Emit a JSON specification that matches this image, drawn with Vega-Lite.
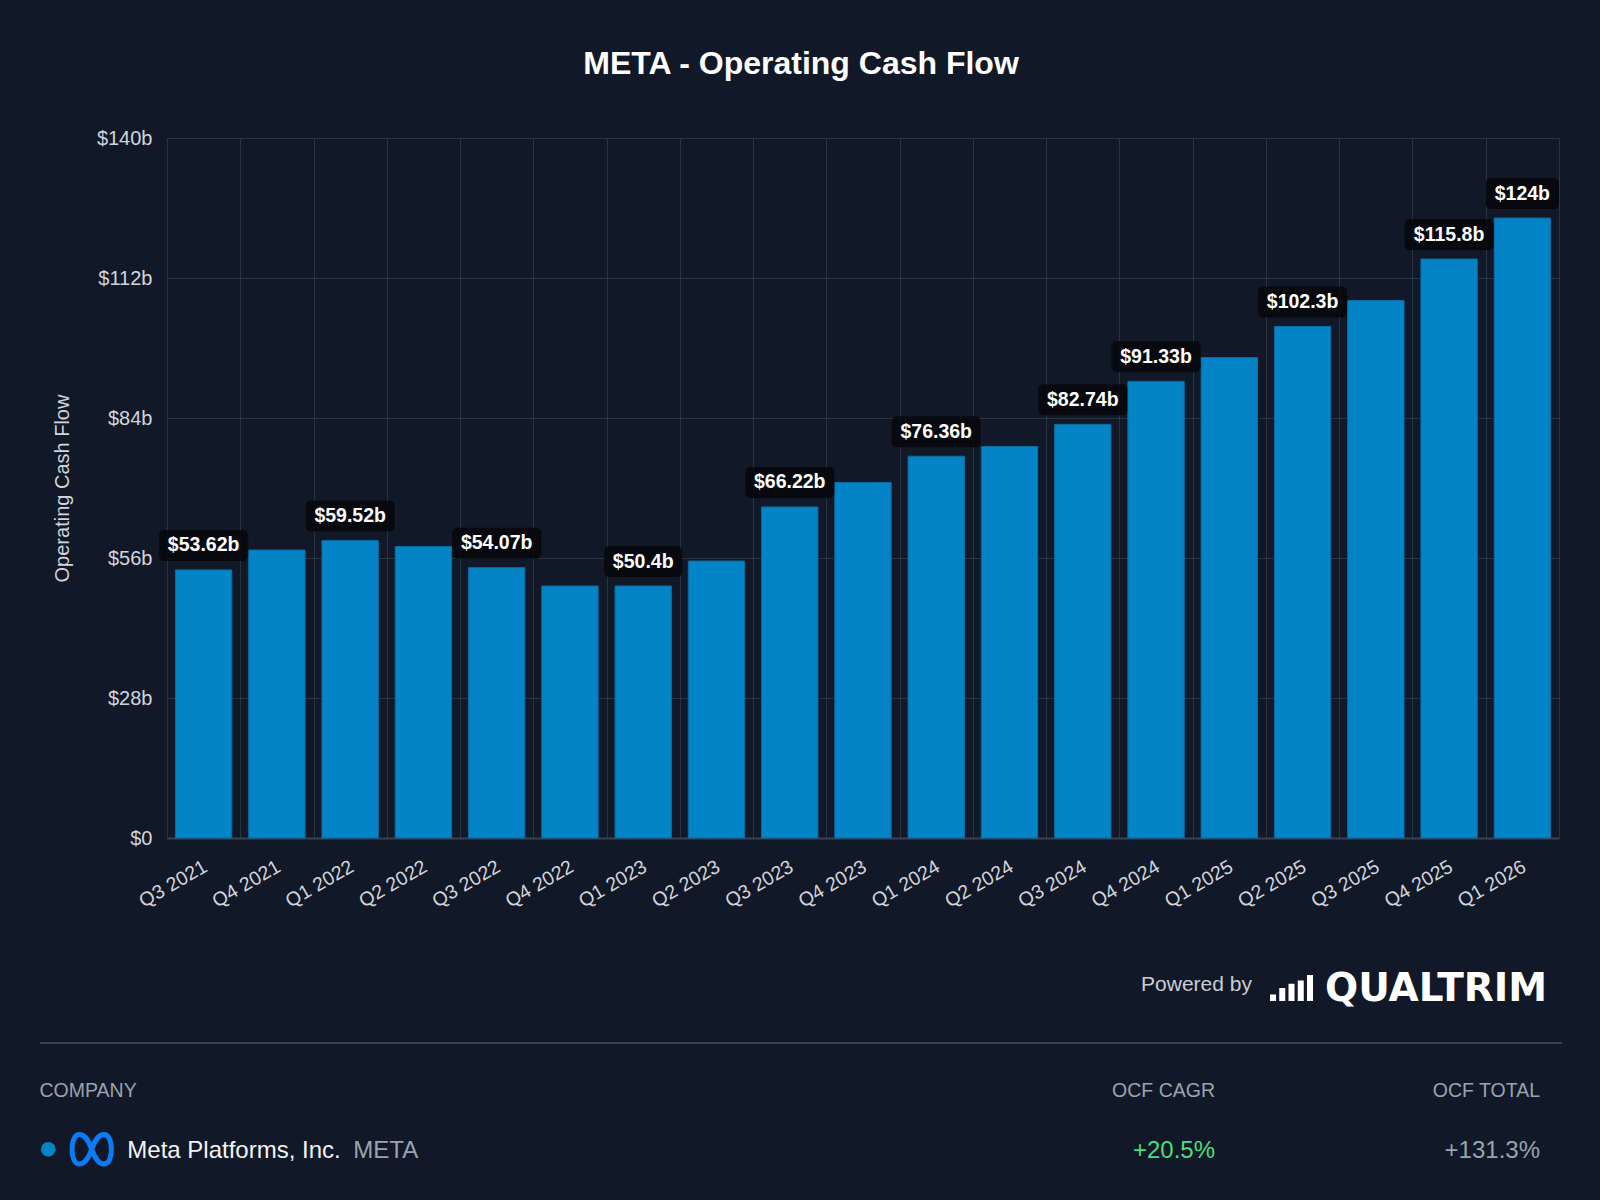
{
  "$schema": "https://vega.github.io/schema/vega-lite/v6.json",
  "width": 1392,
  "height": 700,
  "autosize": {"type": "none"},
  "padding": {"left": 167, "top": 138, "right": 41, "bottom": 362},
  "background": "#111827",
  "title": {
    "text": "META - Operating Cash Flow",
    "fontSize": 32,
    "fontWeight": "bold",
    "color": "#ffffff",
    "anchor": "middle",
    "baseline": "alphabetic",
    "frame": "bounds",
    "offset": 22
  },
  "config": {
    "font": "Liberation Sans",
    "view": {"stroke": null}
  },
  "layer": [
    {
      "data": {
        "values": [
          {"quarter": "Q3 2021", "ocf": 53.62, "label": "$53.62b"},
          {"quarter": "Q4 2021", "ocf": 57.6},
          {"quarter": "Q1 2022", "ocf": 59.52, "label": "$59.52b"},
          {"quarter": "Q2 2022", "ocf": 58.3},
          {"quarter": "Q3 2022", "ocf": 54.07, "label": "$54.07b"},
          {"quarter": "Q4 2022", "ocf": 50.4},
          {"quarter": "Q1 2023", "ocf": 50.4, "label": "$50.4b"},
          {"quarter": "Q2 2023", "ocf": 55.4},
          {"quarter": "Q3 2023", "ocf": 66.22, "label": "$66.22b"},
          {"quarter": "Q4 2023", "ocf": 71.1},
          {"quarter": "Q1 2024", "ocf": 76.36, "label": "$76.36b"},
          {"quarter": "Q2 2024", "ocf": 78.3},
          {"quarter": "Q3 2024", "ocf": 82.74, "label": "$82.74b"},
          {"quarter": "Q4 2024", "ocf": 91.33, "label": "$91.33b"},
          {"quarter": "Q1 2025", "ocf": 96.1},
          {"quarter": "Q2 2025", "ocf": 102.3, "label": "$102.3b"},
          {"quarter": "Q3 2025", "ocf": 107.5},
          {"quarter": "Q4 2025", "ocf": 115.8, "label": "$115.8b"},
          {"quarter": "Q1 2026", "ocf": 124, "label": "$124b"}
        ]
      },
      "encoding": {
        "x": {
          "field": "quarter",
          "type": "ordinal",
          "sort": null,
          "scale": {"paddingInner": 0, "paddingOuter": 0},
          "axis": {
            "title": null,
            "labelAngle": -30,
            "labelAlign": "right",
            "labelBaseline": "top",
            "labelFontSize": 19.5,
            "labelColor": "#d1d5db",
            "labelPadding": 19,
            "labelOffset": -3,
            "ticks": false,
            "domainColor": "#3b4252",
            "domainWidth": 2,
            "grid": true,
            "gridColor": "#2b3241",
            "tickBand": "extent"
          }
        },
        "y": {
          "field": "ocf",
          "type": "quantitative",
          "scale": {"domain": [0, 140], "nice": false},
          "axis": {
            "values": [0, 28, 56, 84, 112, 140],
            "labelExpr": "datum.value == 0 ? '$0' : '$' + datum.value + 'b'",
            "title": "Operating Cash Flow",
            "titleFontSize": 20,
            "titleFontWeight": "normal",
            "titleColor": "#d1d5db",
            "titlePadding": 24,
            "labelFontSize": 20,
            "labelColor": "#d1d5db",
            "labelPadding": 15,
            "ticks": false,
            "domain": false,
            "gridColor": "#2b3241"
          }
        }
      },
      "layer": [
        {
          "mark": {"type": "bar", "width": {"band": 0.77}, "color": "#0284c7", "stroke": "#0b6a9f", "strokeWidth": 1}
        },
        {
          "transform": [{"filter": "datum.label != null"}],
          "mark": {"type": "bar", "color": "#07090d", "opacity": 0.92, "cornerRadius": 5, "yOffset": -9, "y2Offset": -40},
          "encoding": {
            "y2": {"field": "ocf"},
            "size": {
              "condition": [
                {"test": "length(datum.label) == 5", "value": 73},
                {"test": "length(datum.label) == 6", "value": 78}
              ],
              "value": 89
            }
          }
        },
        {
          "transform": [{"filter": "datum.label != null"}],
          "mark": {"type": "text", "dy": -24.5, "fontSize": 19.5, "fontWeight": "bold", "color": "#ffffff", "baseline": "middle"},
          "encoding": {"text": {"field": "label"}}
        }
      ]
    },
    {
      "data": {
        "values": [
          {"company": "Meta Platforms, Inc.", "ticker": "META", "ocf_cagr": "+20.5%", "ocf_total": "+131.3%"}
        ]
      },
      "layer": [
        {
          "mark": {"type": "text", "text": "Powered by", "align": "right", "baseline": "alphabetic", "fontSize": 21, "color": "#c9ced6"},
          "encoding": {
            "x": {"datum": 1252, "type": "quantitative", "scale": {"domain": [0, 1600], "range": [-167, 1433], "nice": false, "zero": false}, "axis": null},
            "y": {"datum": 991, "type": "quantitative", "scale": {"domain": [0, 1200], "range": [-138, 1062], "nice": false, "zero": false}, "axis": null}
          }
        },
        {
          "mark": {
            "type": "point",
            "shape": "M-1,0.6V0.3H-0.72V0.6Z M-0.57,0.6V0H-0.29V0.6Z M-0.14,0.6V-0.2H0.14V0.6Z M0.29,0.6V-0.35H0.57V0.6Z M0.72,0.6V-0.6H1V0.6Z",
            "size": 1849,
            "filled": true,
            "color": "#ffffff",
            "opacity": 1,
            "strokeWidth": 0
          },
          "encoding": {
            "x": {"datum": 1291.5, "type": "quantitative", "scale": {"domain": [0, 1600], "range": [-167, 1433], "nice": false, "zero": false}, "axis": null},
            "y": {"datum": 988, "type": "quantitative", "scale": {"domain": [0, 1200], "range": [-138, 1062], "nice": false, "zero": false}, "axis": null}
          }
        },
        {
          "mark": {"type": "text", "text": "QUALTRIM", "align": "left", "baseline": "alphabetic", "font": "DejaVu Sans", "fontWeight": "bold", "fontSize": 39, "color": "#ffffff"},
          "encoding": {
            "x": {"datum": 1325, "type": "quantitative", "scale": {"domain": [0, 1600], "range": [-167, 1433], "nice": false, "zero": false}, "axis": null},
            "y": {"datum": 1001, "type": "quantitative", "scale": {"domain": [0, 1200], "range": [-138, 1062], "nice": false, "zero": false}, "axis": null}
          }
        },
        {
          "mark": {"type": "rule", "color": "#3a4151", "strokeWidth": 2},
          "encoding": {
            "x": {"datum": 40, "type": "quantitative", "scale": {"domain": [0, 1600], "range": [-167, 1433], "nice": false, "zero": false}, "axis": null},
            "x2": {"datum": 1562},
            "y": {"datum": 1043, "type": "quantitative", "scale": {"domain": [0, 1200], "range": [-138, 1062], "nice": false, "zero": false}, "axis": null}
          }
        },
        {
          "mark": {"type": "text", "text": "COMPANY", "align": "left", "baseline": "alphabetic", "fontSize": 19.5, "color": "#9ca3af"},
          "encoding": {
            "x": {"datum": 39.5, "type": "quantitative", "scale": {"domain": [0, 1600], "range": [-167, 1433], "nice": false, "zero": false}, "axis": null},
            "y": {"datum": 1097, "type": "quantitative", "scale": {"domain": [0, 1200], "range": [-138, 1062], "nice": false, "zero": false}, "axis": null}
          }
        },
        {
          "mark": {"type": "text", "text": "OCF CAGR", "align": "right", "baseline": "alphabetic", "fontSize": 19.5, "color": "#9ca3af"},
          "encoding": {
            "x": {"datum": 1215, "type": "quantitative", "scale": {"domain": [0, 1600], "range": [-167, 1433], "nice": false, "zero": false}, "axis": null},
            "y": {"datum": 1097, "type": "quantitative", "scale": {"domain": [0, 1200], "range": [-138, 1062], "nice": false, "zero": false}, "axis": null}
          }
        },
        {
          "mark": {"type": "text", "text": "OCF TOTAL", "align": "right", "baseline": "alphabetic", "fontSize": 19.5, "color": "#9ca3af"},
          "encoding": {
            "x": {"datum": 1540, "type": "quantitative", "scale": {"domain": [0, 1600], "range": [-167, 1433], "nice": false, "zero": false}, "axis": null},
            "y": {"datum": 1097, "type": "quantitative", "scale": {"domain": [0, 1200], "range": [-138, 1062], "nice": false, "zero": false}, "axis": null}
          }
        },
        {
          "mark": {"type": "point", "shape": "circle", "size": 219, "filled": true, "color": "#0284c7", "opacity": 1},
          "encoding": {
            "x": {"datum": 48.3, "type": "quantitative", "scale": {"domain": [0, 1600], "range": [-167, 1433], "nice": false, "zero": false}, "axis": null},
            "y": {"datum": 1149.3, "type": "quantitative", "scale": {"domain": [0, 1200], "range": [-138, 1062], "nice": false, "zero": false}, "axis": null}
          }
        },
        {
          "mark": {
            "type": "point",
            "shape": "M0,0 C0.3,-0.9 0.9,-0.9 0.9,0 C0.9,0.9 0.3,0.9 0,0 C-0.3,-0.9 -0.9,-0.9 -0.9,0 C-0.9,0.9 -0.3,0.9 0,0 Z",
            "size": 1900,
            "filled": false,
            "stroke": "#0a7cf5",
            "strokeWidth": 5,
            "opacity": 1
          },
          "encoding": {
            "x": {"datum": 91.7, "type": "quantitative", "scale": {"domain": [0, 1600], "range": [-167, 1433], "nice": false, "zero": false}, "axis": null},
            "y": {"datum": 1149.3, "type": "quantitative", "scale": {"domain": [0, 1200], "range": [-138, 1062], "nice": false, "zero": false}, "axis": null}
          }
        },
        {
          "mark": {"type": "text", "align": "left", "baseline": "alphabetic", "fontSize": 24, "color": "#f3f4f6"},
          "encoding": {
            "text": {"field": "company"},
            "x": {"datum": 127.3, "type": "quantitative", "scale": {"domain": [0, 1600], "range": [-167, 1433], "nice": false, "zero": false}, "axis": null},
            "y": {"datum": 1158.3, "type": "quantitative", "scale": {"domain": [0, 1200], "range": [-138, 1062], "nice": false, "zero": false}, "axis": null}
          }
        },
        {
          "mark": {"type": "text", "align": "left", "baseline": "alphabetic", "fontSize": 24, "color": "#9ca3af"},
          "encoding": {
            "text": {"field": "ticker"},
            "x": {"datum": 353.3, "type": "quantitative", "scale": {"domain": [0, 1600], "range": [-167, 1433], "nice": false, "zero": false}, "axis": null},
            "y": {"datum": 1158.3, "type": "quantitative", "scale": {"domain": [0, 1200], "range": [-138, 1062], "nice": false, "zero": false}, "axis": null}
          }
        },
        {
          "mark": {"type": "text", "align": "right", "baseline": "alphabetic", "fontSize": 24, "color": "#4ade80"},
          "encoding": {
            "text": {"field": "ocf_cagr"},
            "x": {"datum": 1215, "type": "quantitative", "scale": {"domain": [0, 1600], "range": [-167, 1433], "nice": false, "zero": false}, "axis": null},
            "y": {"datum": 1158.3, "type": "quantitative", "scale": {"domain": [0, 1200], "range": [-138, 1062], "nice": false, "zero": false}, "axis": null}
          }
        },
        {
          "mark": {"type": "text", "align": "right", "baseline": "alphabetic", "fontSize": 24, "color": "#9ca3af"},
          "encoding": {
            "text": {"field": "ocf_total"},
            "x": {"datum": 1540, "type": "quantitative", "scale": {"domain": [0, 1600], "range": [-167, 1433], "nice": false, "zero": false}, "axis": null},
            "y": {"datum": 1158.3, "type": "quantitative", "scale": {"domain": [0, 1200], "range": [-138, 1062], "nice": false, "zero": false}, "axis": null}
          }
        }
      ]
    }
  ],
  "resolve": {
    "scale": {"x": "independent", "y": "independent"},
    "axis": {"x": "independent", "y": "independent"}
  }
}
